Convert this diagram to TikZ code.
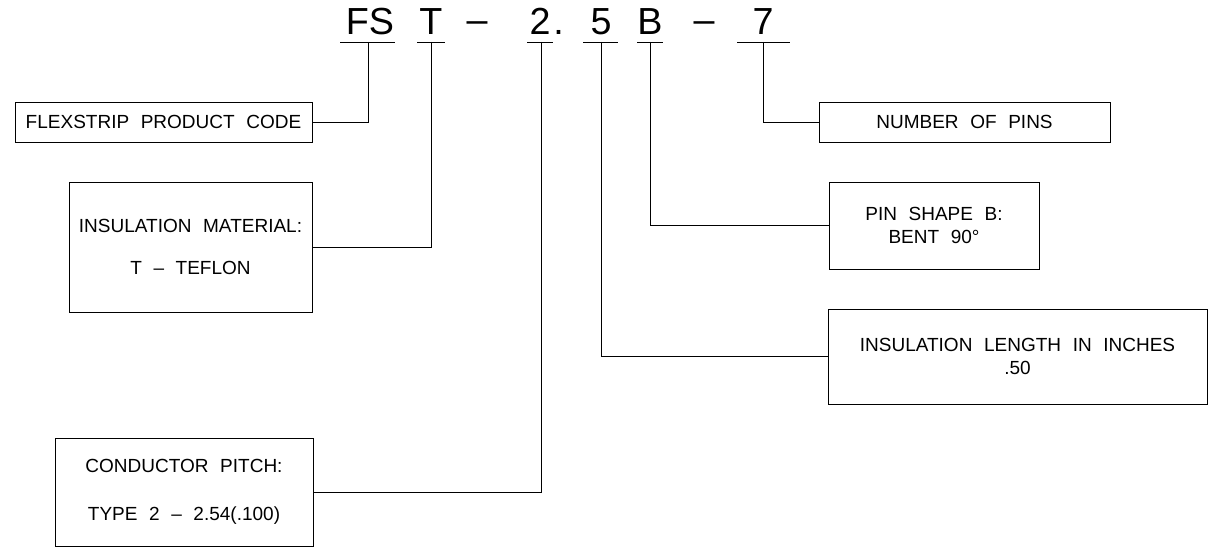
\documentclass[tikz,border=0pt]{standalone}
\usepackage{fontspec}
\setmainfont{Liberation Sans}[WordSpace=2.2]
\usepackage{tikz}

\tikzset{
  partcode/.style={anchor=base, inner sep=0pt, font=\fontsize{37.7}{40}\selectfont},
  infobox/.style={draw, line width=0.9pt, align=center, inner sep=0pt, font=\fontsize{19}{22.6}\selectfont},
  leader/.style={line width=0.9pt},
}

\begin{document}
\begin{tikzpicture}[x=1pt, y=-1pt]
\useasboundingbox (0,0) rectangle (1209,551);

\node[partcode] (fs) at (370,35) {FS};
\node[partcode] (ins) at (431,35) {T};
\node[partcode] (dashA) at (477,33) {–};
\node[partcode] (pitch) at (540,35) {2\rlap{\hspace{3pt}.}};
\node[partcode] (len) at (601,35) {5};
\node[partcode] (shape) at (650,35) {B};
\node[partcode] (dashB) at (704,33) {–};
\node[partcode] (pins) at (763,35) {7};

\foreach \nm/\xa/\xb/\xt in {fs/340/395/368, ins/417/445/431, pitch/527/553/541,
    len/583/618/601, shape/637/663/650, pins/737/790/763} {
  \draw[leader] (\xa,42) -- (\xb,42);
  \coordinate (\nm-tick) at (\xt,42);
}

\node[infobox, minimum width=297, minimum height=40] (product) at (163.5,122) {FLEXSTRIP PRODUCT CODE};
\node[infobox, minimum width=243, minimum height=130] (material) at (190.5,247) {INSULATION MATERIAL:\\[20pt]T – TEFLON};
\node[infobox, minimum width=258, minimum height=108] (conductor) at (184,492) {CONDUCTOR PITCH:\\[25pt]TYPE 2 – 2.54(.100)};
\node[infobox, minimum width=291, minimum height=40] (numpins) at (964.5,122) {NUMBER OF PINS};
\node[infobox, minimum width=210, minimum height=87] (pinshape) at (934,225.5) {PIN SHAPE B:\\BENT 90°};
\node[infobox, minimum width=379, minimum height=95] (inslength) at (1017.5,356.5) {INSULATION LENGTH IN INCHES\\.50};

\draw[leader] (fs-tick) |- (product.east);
\draw[leader] (ins-tick) |- (material.east);
\draw[leader] (pitch-tick) |- (conductor.east);
\draw[leader] (len-tick) |- (inslength.west);
\draw[leader] (shape-tick) |- (pinshape.west);
\draw[leader] (pins-tick) |- (numpins.west);
\end{tikzpicture}
\end{document}
